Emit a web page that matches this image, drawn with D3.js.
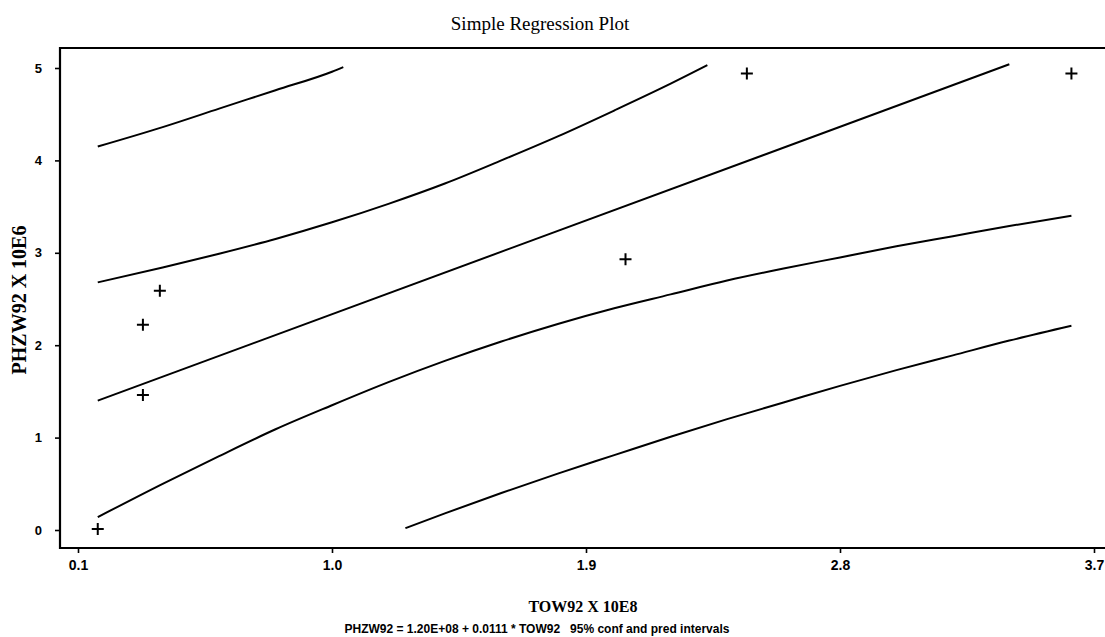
<!DOCTYPE html>
<html>
<head>
<meta charset="utf-8">
<script src="https://cdn.jsdelivr.net/npm/d3@7"></script>
<style>
  html, body { margin: 0; padding: 0; background: #fff; }
  svg { display: block; }
</style>
</head>
<body>
<svg id="chart" width="1105" height="637"></svg>
<script>
// ---- data ----
const xTickValues = [0.1, 1.0, 1.9, 2.8, 3.7];
const xTickLabels = ["0.1", "1.0", "1.9", "2.8", "3.7"];
const yTickValues = [0, 1, 2, 3, 4, 5];
const yTickLabels = ["0", "1", "2", "3", "4", "5"];

// observed points (TOW92 x 10E8, PHZW92 x 10E6)
const pointX = [0.17, 0.33, 0.33, 0.39, 2.04, 2.47, 3.62];
const pointY = [0.01, 2.22, 1.46, 2.59, 2.93, 4.94, 4.94];

// fitted regression line
const fitX = [0.17, 3.40];
const fitY = [1.40, 5.04];

// 95% confidence band (upper)
const confUpX = [0.17, 0.4, 0.6, 0.8, 1.0, 1.2, 1.4, 1.6, 1.8, 2.0, 2.2, 2.33];
const confUpY = [2.68, 2.84, 2.99, 3.15, 3.33, 3.53, 3.75, 4.00, 4.26, 4.54, 4.83, 5.03];
// 95% confidence band (lower)
const confLoX = [0.17, 0.4, 0.6, 0.8, 1.0, 1.2, 1.4, 1.6, 1.8, 2.0, 2.2, 2.4, 2.6, 2.8, 3.0, 3.2, 3.4, 3.62];
const confLoY = [0.14, 0.50, 0.80, 1.09, 1.35, 1.60, 1.83, 2.04, 2.23, 2.40, 2.55, 2.70, 2.83, 2.95, 3.07, 3.18, 3.29, 3.40];
// 95% prediction band (upper)
const predUpX = [0.17, 0.4, 0.6, 0.8, 1.0, 1.04];
const predUpY = [4.15, 4.36, 4.56, 4.76, 4.96, 5.01];
// 95% prediction band (lower)
const predLoX = [1.26, 1.4, 1.6, 1.8, 2.0, 2.2, 2.4, 2.6, 2.8, 3.0, 3.2, 3.4, 3.62];
const predLoY = [0.02, 0.18, 0.40, 0.61, 0.81, 1.01, 1.20, 1.38, 1.56, 1.73, 1.89, 2.05, 2.21];

const titleText = "Simple Regression Plot";
const xLabelText = "TOW92 X 10E8";
const yLabelText = "PHZW92 X 10E6";
const noteText = "PHZW92 = 1.20E+08 + 0.0111 * TOW92   95% conf and pred intervals";

// ---- drawing ----
const svg = d3.select("#chart");
const frameLeft = 60, frameTop = 48, frameBottom = 548, frameRight = 1110;

const x = d3.scaleLinear().domain([0.1, 3.7]).range([78, 1094]);
const y = d3.scaleLinear().domain([0, 5]).range([530, 68]);

// frame
svg.append("path")
  .attr("d", `M${frameRight},${frameTop} H${frameLeft} V${frameBottom} H${frameRight}`)
  .attr("fill", "none").attr("stroke", "#000").attr("stroke-width", 2.2);

// axes
const xAxis = d3.axisBottom(x).tickValues(xTickValues)
  .tickFormat((d, i) => xTickLabels[i]).tickSize(5).tickPadding(7);
const gx = svg.append("g").attr("transform", `translate(0,${frameBottom})`).call(xAxis);
gx.select(".domain").remove();
gx.selectAll(".tick line").attr("stroke", "#000").attr("stroke-width", 1.6);
gx.selectAll(".tick text")
  .attr("font-family", "Liberation Sans, Arial, sans-serif")
  .attr("font-weight", "bold").attr("font-size", 14).attr("fill", "#000");

const yAxis = d3.axisLeft(y).tickValues(yTickValues)
  .tickFormat((d, i) => yTickLabels[i]).tickSize(5).tickPadding(13);
const gy = svg.append("g").attr("transform", `translate(${frameLeft},0)`).call(yAxis);
gy.select(".domain").remove();
gy.selectAll(".tick line").attr("stroke", "#000").attr("stroke-width", 1.6);
gy.selectAll(".tick text")
  .attr("font-family", "Liberation Sans, Arial, sans-serif")
  .attr("font-weight", "bold").attr("font-size", 13).attr("fill", "#000");

// curves
const line = d3.line().x(d => x(d[0])).y(d => y(d[1])).curve(d3.curveMonotoneX);
const series = [
  [predUpX, predUpY],
  [confUpX, confUpY],
  [fitX, fitY],
  [confLoX, confLoY],
  [predLoX, predLoY]
];
svg.append("g").selectAll("path")
  .data(series.map(s => d3.zip(s[0], s[1])))
  .join("path")
  .attr("d", line)
  .attr("fill", "none").attr("stroke", "#000").attr("stroke-width", 2);

// points as plus signs
const pts = d3.zip(pointX, pointY);
svg.append("g").selectAll("path")
  .data(pts)
  .join("path")
  .attr("d", d => {
    const cx = x(d[0]), cy = y(d[1]), h = 6;
    return `M${cx - h},${cy} H${cx + h} M${cx},${cy - h} V${cy + h}`;
  })
  .attr("fill", "none").attr("stroke", "#000").attr("stroke-width", 2);

// texts
svg.append("text").attr("x", 540).attr("y", 30).attr("text-anchor", "middle")
  .attr("font-family", "Liberation Serif, Times New Roman, serif")
  .attr("font-size", 19).attr("fill", "#000").text(titleText);

svg.append("text").attr("x", 583).attr("y", 612).attr("text-anchor", "middle")
  .attr("font-family", "Liberation Serif, Times New Roman, serif")
  .attr("font-weight", "bold")
  .attr("font-size", 16).attr("fill", "#000").text(xLabelText);

svg.append("text")
  .attr("transform", "translate(26,300) rotate(-90)")
  .attr("text-anchor", "middle")
  .attr("font-family", "Liberation Serif, Times New Roman, serif")
  .attr("font-weight", "bold")
  .attr("font-size", 20).attr("fill", "#000").text(yLabelText);

svg.append("text").attr("x", 537).attr("y", 633).attr("text-anchor", "middle")
  .style("white-space", "pre")
  .attr("font-family", "Liberation Sans, Arial, sans-serif")
  .attr("font-weight", "bold")
  .attr("font-size", 12).attr("fill", "#000").text(noteText);
</script>
</body>
</html>
